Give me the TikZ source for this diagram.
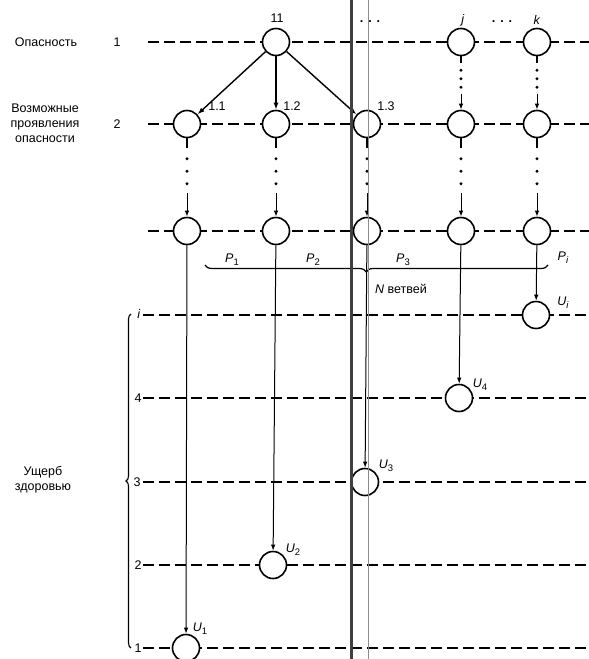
\documentclass[tikz,border=0pt]{standalone}
\usepackage{fontspec}
\setmainfont{Liberation Sans}
\usetikzlibrary{arrows.meta,calc,decorations.pathreplacing}
\newcommand\lbl[2]{\textit{#1}\raisebox{-0.5ex}{\fontsize{9.5}{9.5}\selectfont #2}}
\newcommand\dlink[2]{%
  \draw[line width=1.1pt] (#1.south) -- ($(#1.south)!0.12!(#2.north)$);
  \foreach \t in {0.26,0.42,0.58} \fill ($(#1.south)!\t!(#2.north)$) circle (1.6pt);
  \draw[vline] ($(#1.south)!0.7!(#2.north)$) -- (#2.north);}
\begin{document}
\begin{tikzpicture}[x=1pt,y=-1pt,font=\fontsize{12.5}{15}\selectfont,
  st/.style={circle,draw,line width=1.6pt,fill=white,minimum size=27pt,inner sep=0pt},
  rowline/.style={line width=1.3pt,dash pattern=on 11pt off 5pt},
  arr/.style={-{Latex[length=7pt,width=5pt]},line width=1.4pt},
  vline/.style={-{Latex[length=6pt,width=4.5pt]},line width=1pt},
  txt/.style={inner sep=0pt,align=center}]
\useasboundingbox (0,0) rectangle (589,659);
% row lines
\foreach \n/\xa/\y in {A/148/42,B/148/124,C/148/231,D/143/315,E/143/398,F/143/482,G/143/565,H/143/648}{
  \coordinate (L\n) at (\xa,\y);
  \coordinate (R\n) at (589,\y);
  \draw[rowline] (L\n) -- (R\n);
}
% nodes
\node[st] (top) at (276,42) {};
\node[st] (j1) at (461,42) {};
\node[st] (k1) at (537,42) {};
\foreach \c/\x in {a/187,b/276,c/367,j/461,k/537}{
  \node[st] (\c2) at (\x,124) {};
  \node[st] (\c3) at (\x,231) {};
}
\node[st] (Ui) at (536,315) {};
\node[st] (U4) at (459,398) {};
\node[st] (U3) at (365,482) {};
\node[st] (U2) at (273,565) {};
\node[st] (U1) at (186,648) {};
% connectors
\draw[arr] (top) -- (a2);
\draw[arr] (top) -- (b2);
\draw[arr] (top) -- (c2);
\dlink{j1}{j2}
\dlink{k1}{k2}
\foreach \c in {a,b,c,j,k}{\dlink{\c2}{\c3}}
\draw[vline] (a3) -- (U1);
\draw[vline] (b3) -- (U2);
\draw[vline] (c3) -- (U3);
\draw[vline] (j3) -- (U4);
\draw[vline] (k3) -- (Ui);
% braces
\coordinate (bra) at (548,265);
\coordinate (brb) at (205,265);
\draw[decorate,decoration={brace,amplitude=7pt,aspect=0.53},line width=1.2pt] (bra) -- (brb);
\coordinate (lba) at (131,648);
\coordinate (lbb) at (131,314);
\draw[decorate,decoration={brace,amplitude=5pt},line width=1.1pt] (lba) -- (lbb);
% texts
\node[txt] (t11) at (277,18) {11};
\node[txt] (tj) at (463,20) {\textit{j}};
\node[txt] (tk) at (537,20) {\textit{k}};
\node[txt] (dd1) at (370,22) {\textbf{.\hspace{5pt}.\hspace{5pt}.}};
\node[txt] (dd2) at (502,22) {\textbf{.\hspace{5pt}.\hspace{5pt}.}};
\node[txt] (t11a) at (217,106) {1.1};
\node[txt] (t12) at (292,106) {1.2};
\node[txt] (t13) at (386,106) {1.3};
\node[txt] (p1) at (232,260) {\lbl{P}{1}};
\node[txt] (p2) at (313,260) {\lbl{P}{2}};
\node[txt] (p3) at (403,260) {\lbl{P}{3}};
\node[txt] (pi) at (563,258) {\lbl{P}{\textit{i}}};
\node[txt] (nv) at (401,289) {\textit{N} ветвей};
\node[txt] (ui) at (563,303) {\lbl{U}{\textit{i}}};
\node[txt] (u4) at (480,385) {\lbl{U}{4}};
\node[txt] (u3) at (386,466) {\lbl{U}{3}};
\node[txt] (u2) at (293,550) {\lbl{U}{2}};
\node[txt] (u1) at (200,629) {\lbl{U}{1}};
\node[txt] (l1) at (117,42) {1};
\node[txt] (l2) at (117,124) {2};
\node[txt] (li) at (139,314) {\textit{i}};
\node[txt] (l4) at (138,398) {4};
\node[txt] (l3) at (137,482) {3};
\node[txt] (l2b) at (138,565) {2};
\node[txt] (l1b) at (138,648) {1};
\node[txt] (op) at (46,42) {Опасность};
\node[txt] (vp) at (45,123) {Возможные\\проявления\\опасности};
\node[txt] (uz) at (43,480) {Ущерб\\здоровью};
% binding gutter of the scan
\draw[line width=2.6pt,black!75] (351.5,0) -- (351.5,659);
\draw[line width=0.6pt,black!45] (368.5,0) -- (368.5,659);
\end{tikzpicture}
\end{document}
